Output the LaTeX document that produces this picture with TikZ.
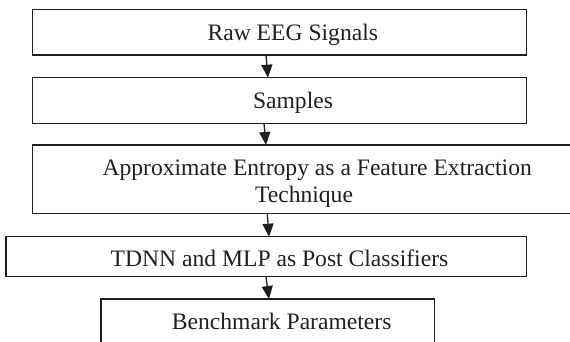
\documentclass[tikz,border=0pt]{standalone}
\usepackage{fontspec}
\setmainfont{Liberation Serif}
\usetikzlibrary{arrows.meta}
\definecolor{ink}{HTML}{231F20}
\begin{document}
\begin{tikzpicture}[x=1pt,y=-1pt,
  stepbox/.style={draw=ink, line width=1.3pt, rectangle, inner sep=0pt, outer sep=0pt},
  caption/.style={anchor=base, inner sep=0pt, text=ink, font=\fontsize{23.6}{28}\selectfont},
  flow/.style={draw=ink, line width=1.3pt, -{Triangle[length=13pt,width=11pt]}}]
  \useasboundingbox (0,0) rectangle (570,342);
  \clip (0,0) rectangle (570,342);

  % boxes of the processing chain
  \node[stepbox, minimum width=494pt, minimum height=45.7pt] (b1) at (279.7,32.15) {};
  \node[stepbox, minimum width=494pt, minimum height=45.6pt] (b2) at (279.7,100.5) {};
  \node[stepbox, minimum width=569pt, minimum height=68.3pt] (b3) at (317.2,179.15) {};
  \node[stepbox, minimum width=520.7pt, minimum height=40pt] (b4) at (266.35,256.7) {};
  \node[stepbox, minimum width=333.3pt, minimum height=47pt] (b5) at (267.65,322.5) {};

  % box texts
  \node[caption] (t1) at (292.8,40.5) {Raw EEG Signals};
  \node[caption] (t2) at (293,108.3) {Samples};
  \node[caption] (t3a) at (317.2,175.5) {Approximate Entropy as a Feature Extraction};
  \node[caption] (t3b) at (304,202.5) {Technique};
  \node[caption] (t4) at (279.5,266.7) {TDNN and MLP as Post Classifiers};
  \node[caption] (t5) at (281.7,329) {Benchmark Parameters};

  % connectors
  \draw[flow] ([xshift=-13.7pt]b1.south) -- ([xshift=-11.7pt]b2.north);
  \draw[flow] ([xshift=-15.7pt]b2.south) -- ([xshift=-51.2pt]b3.north);
  \draw[flow] ([xshift=-49.9pt]b3.south) -- ([xshift=2.65pt]b4.north);
  \draw[flow] ([xshift=-0.35pt]b4.south) -- ([xshift=1.35pt]b5.north);
\end{tikzpicture}
\end{document}
